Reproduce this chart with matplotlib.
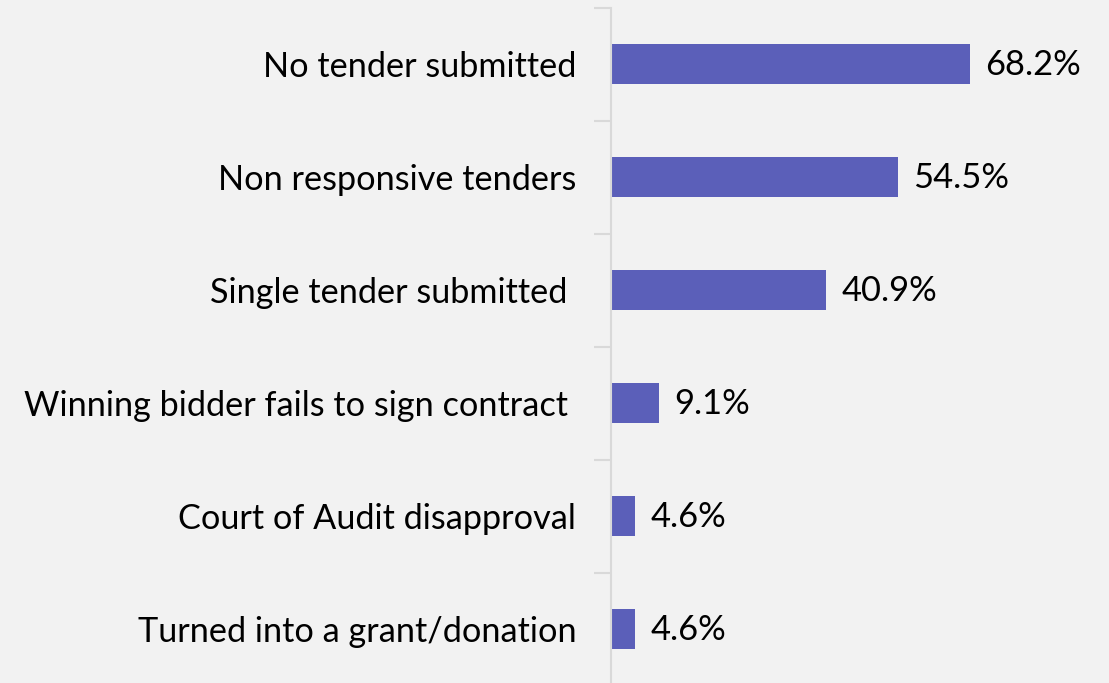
import matplotlib.pyplot as plt

categories = ["No tender submitted", "Non responsive tenders", "Single tender submitted ",
              "Winning bidder fails to sign contract ", "Court of Audit disapproval",
              "Turned into a grant/donation"]
values = [68.2, 54.5, 40.9, 9.1, 4.6, 4.6]
value_labels = ["68.2%", "54.5%", "40.9%", "9.1%", "4.6%", "4.6%"]

plt.rcParams['font.family'] = ['Lato', 'DejaVu Sans']
bg = '#f2f2f2'

fig = plt.figure(figsize=(11.09, 6.83), dpi=100, facecolor=bg)
ax = fig.add_axes([611 / 1109, 0, 1 - 611 / 1109, 1 - 7.5 / 683])
ax.set_facecolor(bg)

pos = list(range(len(categories)))
ax.barh(pos, values, height=0.355, color='#5b5fb9')

for p, v, lab in zip(pos, values, value_labels):
    ax.annotate(lab, (v, p), xytext=(11, -1), textcoords='offset points',
                va='center', ha='left', fontsize=24.8, color='black')

ax.set_xlim(0, 94.7)
ax.set_ylim(5.5 - 2.5 / 113, -0.5)

# category labels at bar centres, tick marks on the boundaries between them
ax.set_yticks(pos)
ax.set_yticklabels(categories, fontsize=24.7)
ax.tick_params(axis='y', which='major', length=0, pad=25)
ax.set_yticks([p - 0.5 for p in pos], minor=True)
ax.tick_params(axis='y', which='minor', length=12, width=1.5, color='#d9d9d9')
ax.set_xticks([])

for s in ['top', 'right', 'bottom']:
    ax.spines[s].set_visible(False)
ax.spines['left'].set_color('#d9d9d9')
ax.spines['left'].set_linewidth(1.5)

fig.savefig('out.png', dpi=100, facecolor=bg)
